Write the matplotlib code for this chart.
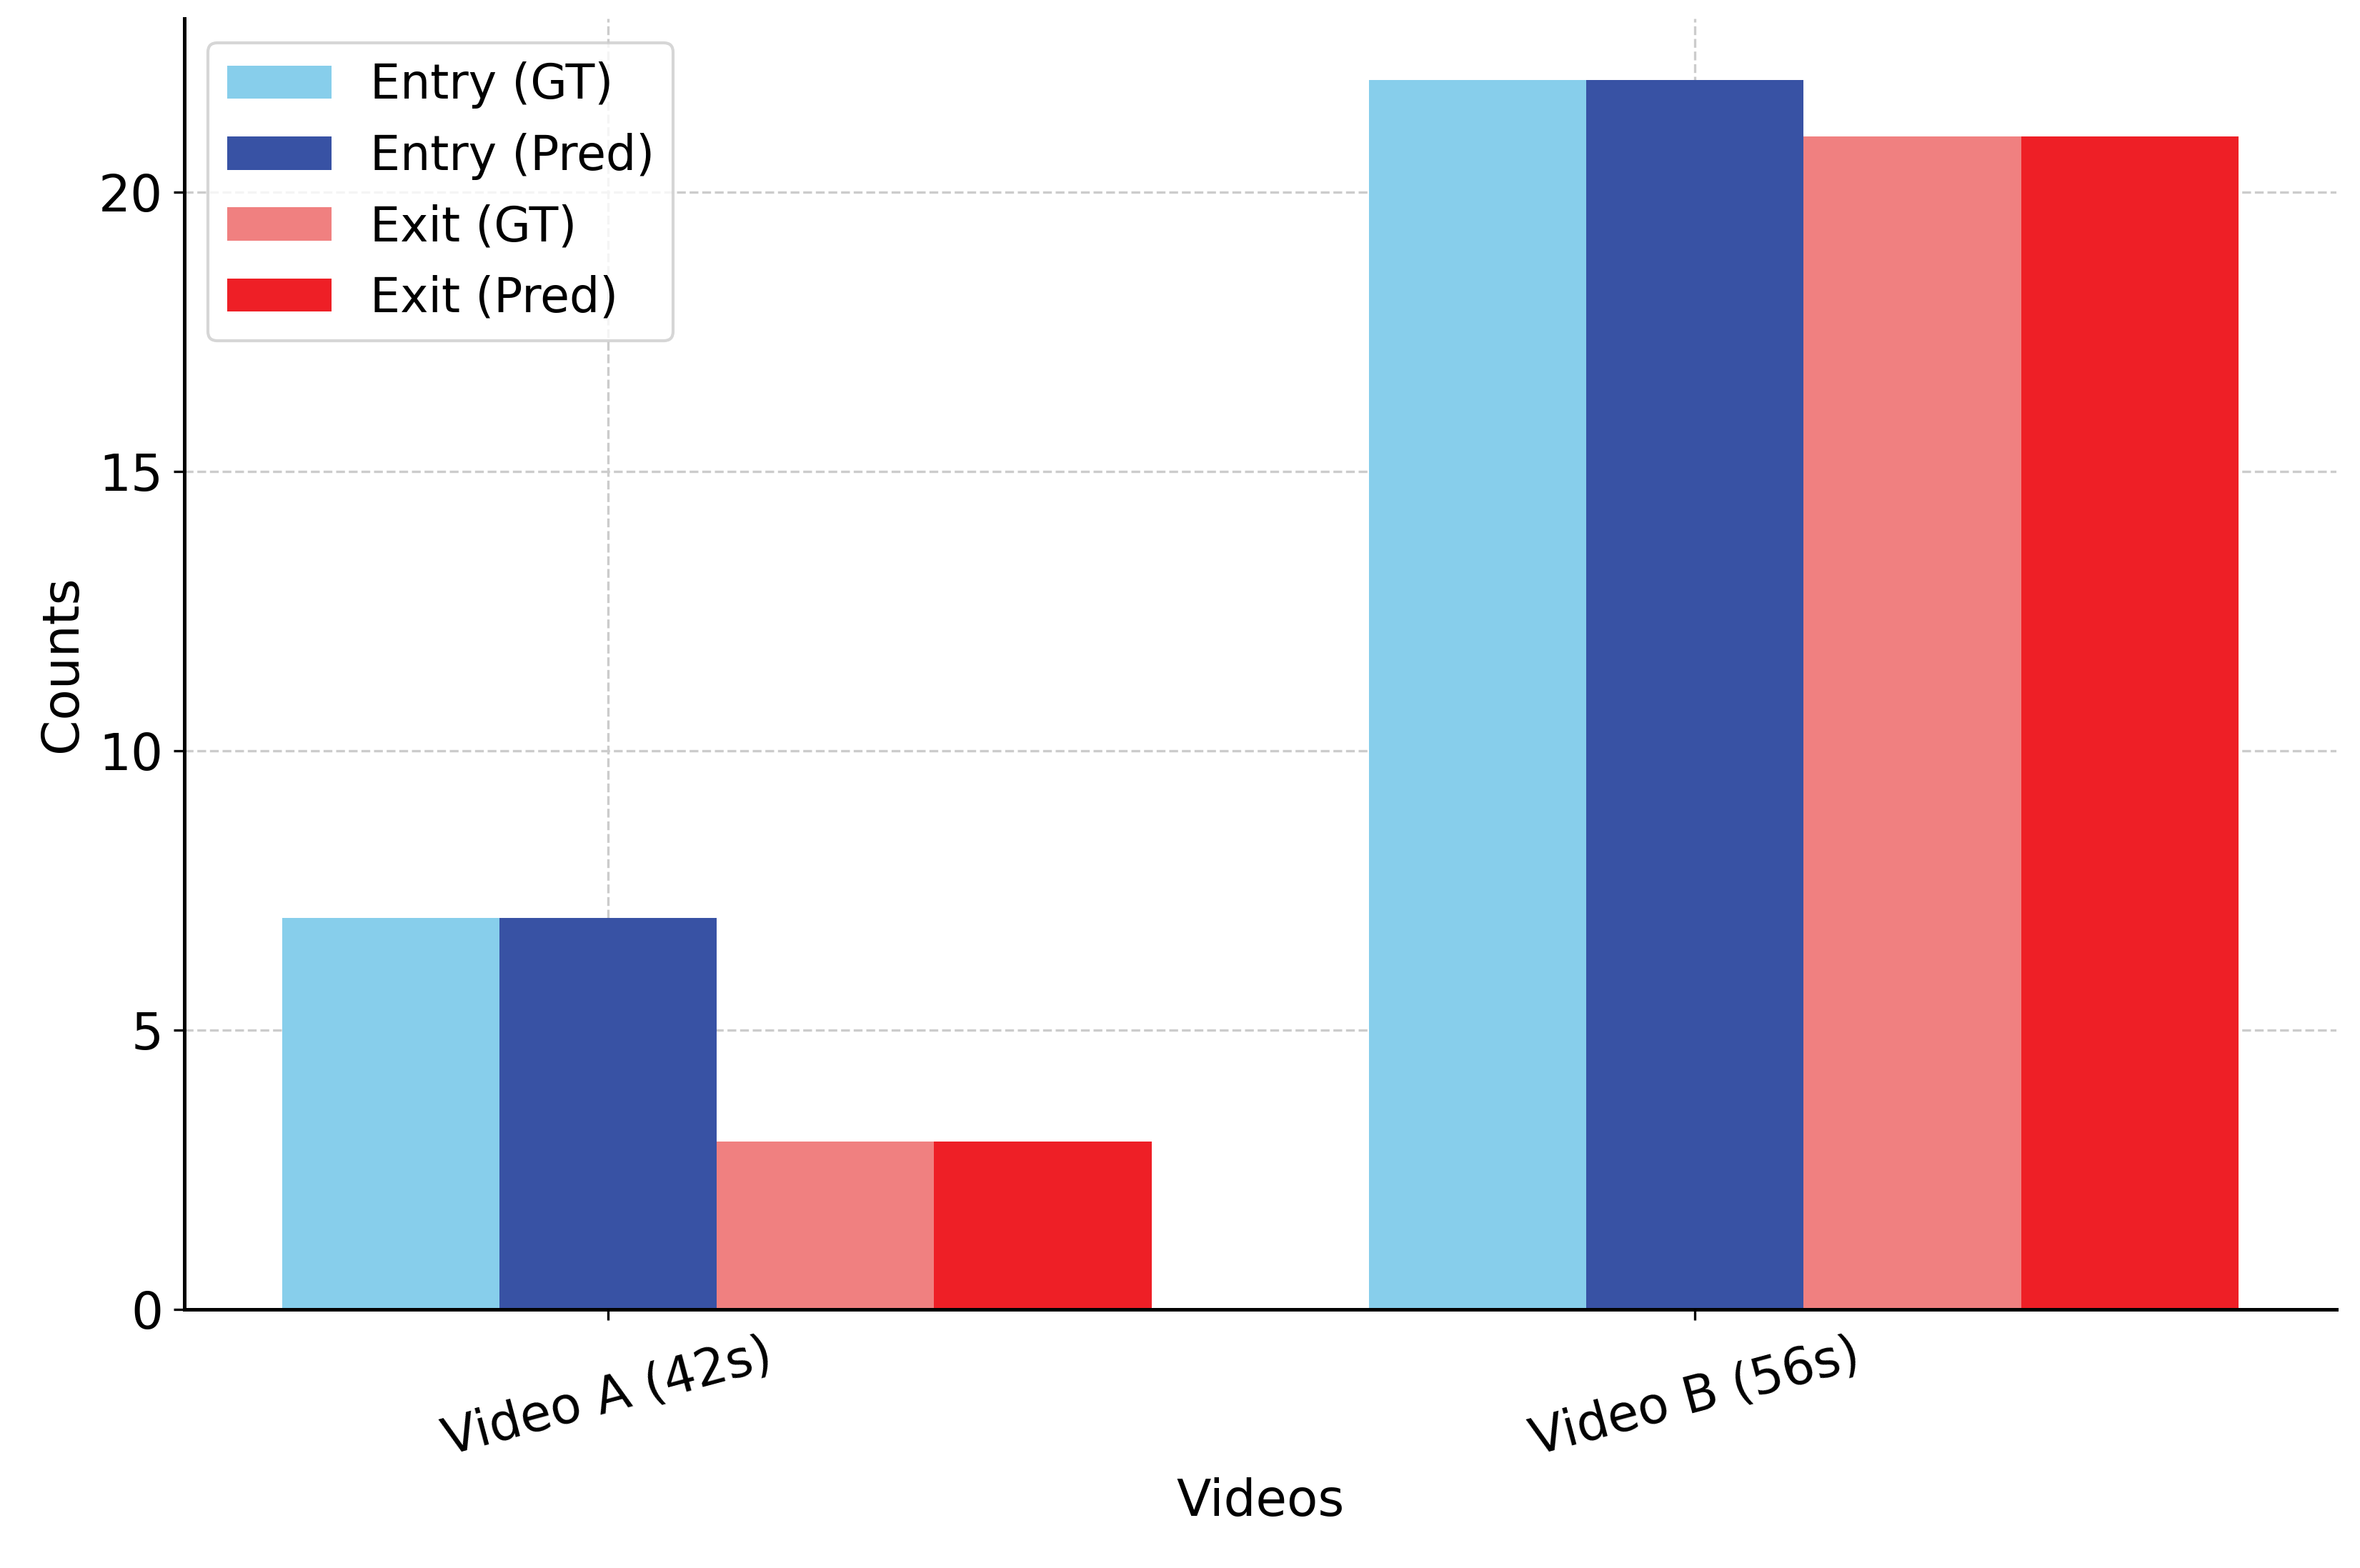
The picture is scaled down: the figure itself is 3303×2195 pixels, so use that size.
import matplotlib.pyplot as plt
import numpy as np

videos = ['Video A (42s)', 'Video B (56s)']
series_names = ['Entry (GT)', 'Entry (Pred)', 'Exit (GT)', 'Exit (Pred)']
entry_gt = [7, 22]
entry_pred = [7, 22]
exit_gt = [3, 21]
exit_pred = [3, 21]
colors = ['#87CEEB', '#3852A4', '#F08080', '#EE1F26']

fig = plt.figure(figsize=(3303 / 300, 2195 / 300), dpi=300)
ax = fig.add_axes([0.078, 0.165, 0.912, 0.823])

x = np.arange(len(videos))
w = 0.2
for i, (vals, name) in enumerate(zip([entry_gt, entry_pred, exit_gt, exit_pred], series_names)):
    ax.bar(x + (i - 1) * w, vals, w, color=colors[i], label=name, zorder=2)

ax.set_xlim(-0.39, 1.59)
ax.set_ylim(0, 23.1)
ax.set_xticks(x)
ax.set_xticklabels(videos, rotation=15, fontsize=17)
ax.tick_params(axis='y', labelsize=17)
ax.set_yticks([0, 5, 10, 15, 20])
ax.set_xlabel('Videos', fontsize=17)
ax.set_ylabel('Counts', fontsize=17)
ax.grid(True, linestyle='--', color='#cccccc', linewidth=0.8, zorder=0)
for s in ['top', 'right']:
    ax.spines[s].set_visible(False)
ax.spines['left'].set_linewidth(1.2)
ax.spines['bottom'].set_linewidth(1.2)
ax.legend(loc='upper left', fontsize=16, frameon=True, handlelength=2.2)

fig.savefig('out.png', dpi=300)
